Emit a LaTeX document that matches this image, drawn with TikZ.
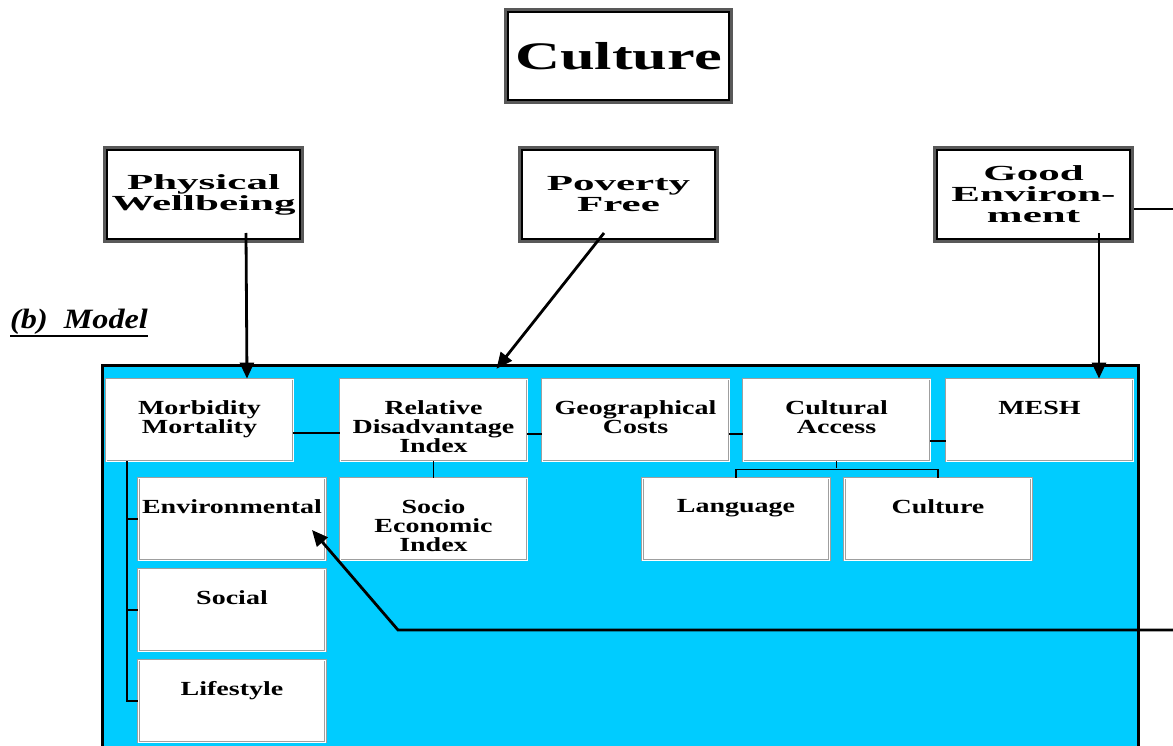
\documentclass[tikz,border=0pt]{standalone}
\usepackage{fontspec}
\setmainfont{Liberation Serif}
\newfontfamily\fsmall[FakeStretch=1.4]{Liberation Serif}
\newfontfamily\fmid[FakeStretch=2.0]{Liberation Serif}
\newfontfamily\fbig[FakeStretch=1.6]{Liberation Serif}
\newfontfamily\flab[FakeStretch=1.15]{Liberation Serif}
\usetikzlibrary{arrows.meta}
\definecolor{sky}{HTML}{00CCFF}
\begin{document}
\begin{tikzpicture}[x=1pt,y=-1pt,
  topbox/.style={draw=black!65, line width=3pt, fill=white, minimum width=198pt, minimum height=94pt, inner sep=0pt, align=center, font=\fmid\bfseries\fontsize{21.5}{21}\selectfont},
  titlebox/.style={topbox, minimum width=226pt, minimum height=93pt, font=\fbig\bfseries\fontsize{39}{39}\selectfont},
  inframe/.style={draw=black, line width=1.3pt},
  sbox/.style={draw=gray!75, double=white, double distance=0.9pt, line width=0.8pt, fill=white, minimum width=187pt, minimum height=82pt, inner sep=0pt},
  stxt/.style={anchor=north, inner sep=0pt, align=center, font=\fsmall\bfseries\fontsize{20}{19}\selectfont},
  arr/.style={line width=2.8pt, -{Triangle[length=16pt,width=14pt]}},
  thinl/.style={line width=1.5pt},
  thickl/.style={line width=2.8pt}
]
\useasboundingbox (0,0) rectangle (1173,746);
\clip (0,0) rectangle (1173,746);

% top boxes
\node[titlebox] (tc) at (618.5,56) {Culture};
\node[topbox] (pw) at (203.5,194.5) {Physical\\Wellbeing};
\node[topbox] (pf) at (618.5,194.5) {Poverty\\Free};
\node[topbox] (ge) at (1033.5,194.5) {Good\\Environ-\\ment};
\foreach \n in {tc,pw,pf,ge}{
  \draw[inframe] ([xshift=4pt,yshift=-4pt]\n.north west) rectangle ([xshift=-4pt,yshift=4pt]\n.south east);
}

% label
\node[anchor=base west, inner sep=0pt, font=\flab\bfseries\itshape\fontsize{28}{28}\selectfont] (lab) at (10,328) {(b)\ \ Model};
\draw[line width=2.4pt] ([yshift=-8pt]lab.base west) -- ([yshift=-8pt]lab.base east);

% model frame
\node[draw=black, line width=3.5pt, fill=sky, minimum width=1036pt, minimum height=400pt, anchor=north west, inner sep=0pt] (model) at (100.75,363.75) {};

% small boxes
\node[sbox] (mm) at (199.5,420) {};
\node[sbox] (rd) at (433.5,420) {};
\node[sbox] (gc) at (635.5,420) {};
\node[sbox] (ca) at (836.5,420) {};
\node[sbox] (me) at (1039.5,420) {};
\node[sbox] (en) at (232,519) {};
\node[sbox] (se) at (433.5,519) {};
\node[sbox] (la) at (736,519) {};
\node[sbox] (cu) at (938,519) {};
\node[sbox] (so) at (232,610) {};
\node[sbox] (li) at (232,701) {};

\node[stxt] (mmt) at ([yshift=-22pt]mm.north) {Morbidity\\Mortality};
\node[stxt] (rdt) at ([yshift=-22pt]rd.north) {Relative\\Disadvantage\\Index};
\node[stxt] (gct) at ([yshift=-22pt]gc.north) {Geographical\\Costs};
\node[stxt] (cat) at ([yshift=-22pt]ca.north) {Cultural\\Access};
\node[stxt] (met) at ([yshift=-22pt]me.north) {MESH};
\node[stxt] (ent) at ([yshift=-22pt]en.north) {Environmental};
\node[stxt] (set) at ([yshift=-22pt]se.north) {Socio\\Economic\\Index};
\node[stxt] (lat) at ([yshift=-22pt]la.north) {Language};
\node[stxt] (cut) at ([yshift=-22pt]cu.north) {Culture};
\node[stxt] (sot) at ([yshift=-22pt]so.north) {Social};
\node[stxt] (lit) at ([yshift=-22pt]li.north) {Lifestyle};

% thin connectors
\draw[thinl] ([yshift=-13pt]mm.east) -- ([yshift=-13pt]rd.west);
\draw[thinl] ([yshift=-14pt]rd.east) -- ([yshift=-14pt]gc.west);
\draw[thinl] ([yshift=-14pt]gc.east) -- ([yshift=-14pt]ca.west);
\draw[thinl] ([yshift=-21pt]ca.east) -- ([yshift=-21pt]me.west);
\draw[thinl] (rd.south) -- (se.north);
\draw[thinl] (ca.south) -- ++(0,7);
\draw[thinl] (la.north) -- ++(0,-8) -| (cu.north);
\coordinate (tt) at ([xshift=-72.5pt]mm.south);
\draw[thinl] (tt) |- (li.west);
\draw[thinl] (en.west) -- (en.west -| tt);
\draw[thinl] (so.west) -- (so.west -| tt);

% arrows
\draw[arr] ([xshift=42.5pt,yshift=10pt]pw.south) -- ([xshift=47.5pt]mm.north);
\draw[arr] ([xshift=-14.5pt,yshift=10pt]pf.south) -- ([xshift=-124pt,yshift=-5pt]model.north);
\draw[arr] ([xshift=65.5pt,yshift=10pt]ge.south) -- ([xshift=59.5pt]me.north);
\coordinate (geout) at (1173,209);
\draw[thickl] ([yshift=-14.5pt]ge.east) -- (geout);
\coordinate (envin) at (1173,630);
\coordinate (bend) at (398,630);
\draw[arr] (envin) -- (bend) -- ([xshift=80pt,yshift=-11pt]en.center);
\end{tikzpicture}
\end{document}
